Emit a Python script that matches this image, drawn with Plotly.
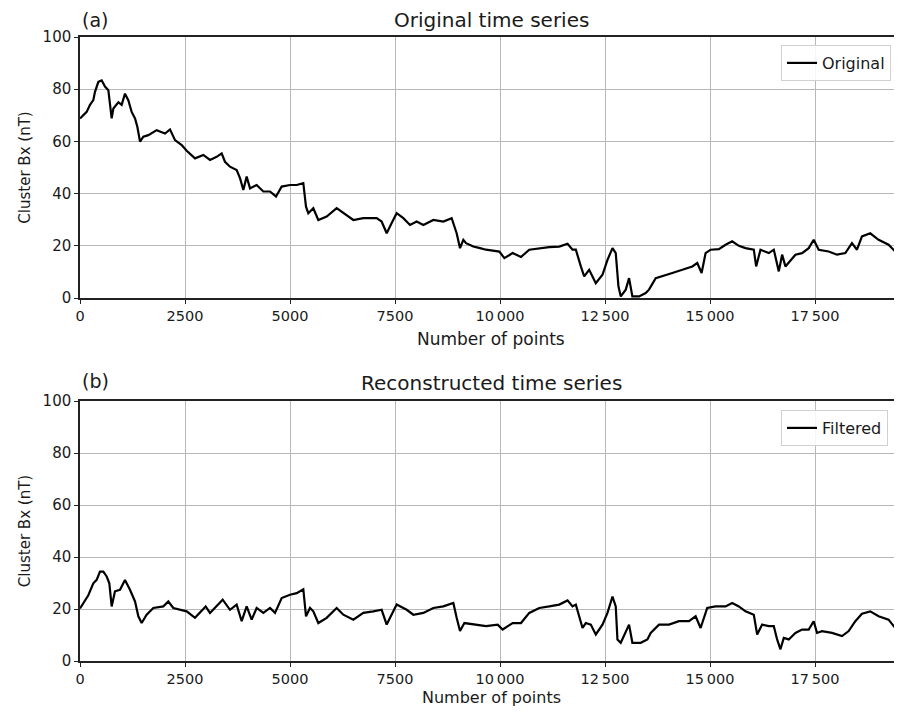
import plotly.graph_objects as go

# ---- data ----
orig_x = [0, 159, 238, 317, 357, 437, 516, 595, 675, 714, 754, 794, 913, 992, 1071, 1150, 1230, 1310, 1365,
          1429, 1508, 1627, 1825, 2024, 2143, 2262, 2421, 2540, 2738, 2937, 3095, 3254, 3373, 3452, 3571, 3730,
          3810, 3889, 3968, 4048, 4206, 4365, 4524, 4667, 4802, 5000, 5159, 5317, 5381, 5436, 5555, 5674, 5873,
          6111, 6270, 6508, 6746, 7063, 7182, 7302, 7421, 7540, 7698, 7857, 8016, 8175, 8413, 8651, 8849,
          8968, 9048, 9127, 9192, 9365, 9524, 9667, 9984, 10103, 10301, 10499, 10697, 10935, 11172, 11410,
          11608, 11727, 11806, 11925, 12004, 12123, 12281, 12440, 12559, 12678, 12756, 12820, 12875, 12994,
          13073, 13152, 13311, 13469, 13548, 13707, 13866, 14103, 14341, 14579, 14697, 14800, 14895, 15014,
          15212, 15370, 15528, 15687, 15845, 16043, 16099, 16202, 16400, 16519, 16638, 16717, 16796, 17034,
          17192, 17350, 17469, 17588, 17826, 18024, 18222, 18380, 18499, 18618, 18816, 19014, 19252, 19410, 19560]
orig_y = [68.8, 71.3, 74.0, 75.8, 79.0, 82.8, 83.4, 81.0, 79.6, 73.0, 68.8, 72.6, 75.0, 74.0, 78.3, 75.8, 71.3,
          68.8, 65.6, 59.9, 61.8, 62.4, 64.3, 63.0, 64.6, 60.5, 58.6, 56.4, 53.5, 54.8, 52.9, 54.1, 55.4, 52.2,
          50.3, 49.0, 45.9, 41.4, 46.5, 42.0, 43.3, 40.8, 40.8, 38.9, 42.7, 43.3, 43.3, 44.0, 35.0, 32.5, 34.4,
          29.9, 31.2, 34.4, 32.5, 29.9, 30.6, 30.6, 29.3, 24.8, 28.7, 32.5, 30.6, 28.0, 29.3, 28.0, 29.9, 29.3,
          30.6, 24.8, 19.1, 22.3, 21.0, 19.7, 19.1, 18.5, 17.8, 15.3, 17.2, 15.7, 18.5, 19.1, 19.5, 19.7,
          20.8, 18.5, 18.5, 12.1, 8.3, 10.8, 5.7, 8.9, 14.6, 19.1, 17.2, 4.5, 0.6, 3.2,
          7.6, 0.6, 0.6, 1.9, 3.2, 7.6, 8.3, 9.6, 10.8, 12.1, 13.4, 9.6, 17.2, 18.5,
          18.7, 20.4, 21.7, 20.0, 19.1, 18.5, 12.1, 18.5, 17.2, 18.5, 10.2, 16.6, 12.1, 16.6,
          17.2, 19.1, 22.3, 18.5, 17.8, 16.6, 17.2, 21.0, 18.5, 23.6, 24.8, 22.3, 20.4, 17.8, 18.5]

filt_x = [0, 79, 198, 317, 397, 476, 556, 635, 698, 754, 833, 952, 1071, 1190, 1310, 1389, 1468, 1587, 1746,
          1984, 2103, 2222, 2381, 2540, 2738, 2857, 2992, 3095, 3254, 3397, 3571, 3730, 3849, 3968, 4087, 4206,
          4365, 4524, 4643, 4802, 5000, 5159, 5317, 5381, 5476, 5555, 5674, 5873, 6111, 6270, 6508, 6746, 6984,
          7182, 7302, 7540, 7778, 7937, 8175, 8413, 8651, 8889, 8968, 9048, 9152, 9430, 9667, 9945, 10063,
          10301, 10499, 10697, 10935, 11172, 11410, 11608, 11727, 11806, 11965, 12044, 12162, 12281, 12440,
          12559, 12678, 12756, 12796, 12875, 12994, 13073, 13152, 13350, 13509, 13588, 13786, 14024, 14262,
          14499, 14658, 14776, 14934, 15132, 15370, 15528, 15687, 15845, 16043, 16123, 16242, 16400, 16519,
          16598, 16677, 16757, 16875, 17034, 17192, 17350, 17469, 17548, 17667, 17905, 18143, 18302, 18460,
          18618, 18816, 19014, 19252, 19410, 19560]
filt_y = [20.2, 22.2, 25.3, 29.9, 31.2, 34.4, 34.4, 32.5, 29.9, 21.0, 26.8, 27.4, 31.2, 27.4, 22.9, 17.2, 14.6,
          17.8, 20.4, 21.0, 22.9, 20.4, 19.7, 19.1, 16.6, 18.5, 21.0, 18.5, 21.0, 23.6, 19.7, 21.7, 15.3, 21.0,
          15.9, 20.4, 18.5, 20.4, 18.5, 24.2, 25.5, 26.1, 27.6, 17.2, 20.4, 19.1, 14.6, 16.6, 20.4, 17.8, 15.9,
          18.5, 19.1, 19.7, 14.0, 21.7, 19.7, 17.8, 18.5, 20.4, 21.0, 22.3, 16.6, 11.5, 14.6, 14.0, 13.4, 14.0,
          12.1, 14.6, 14.6, 18.5, 20.4, 21.0, 21.7, 23.3, 21.0, 21.7, 12.7, 14.6, 14.0, 10.2, 14.0,
          18.5, 24.8, 21.0, 8.3, 7.0, 11.5, 14.0, 7.0, 7.0, 8.3, 10.8, 14.0, 14.0, 15.3,
          15.3, 17.2, 12.7, 20.4, 21.0, 21.0, 22.3, 21.0, 19.1, 17.8, 10.2, 14.0, 13.4, 13.4,
          8.3, 4.5, 8.9, 8.3, 10.8, 12.1, 12.1, 15.3, 10.8, 11.5, 10.8, 9.6, 11.5, 15.3,
          18.2, 19.1, 17.2, 15.9, 12.7, 14.0]

x_tickvals = [0, 2500, 5000, 7500, 10000, 12500, 15000, 17500]
x_ticktext = ["0", "2500", "5000", "7500", "10\u2009000", "12\u2009500", "15\u2009000", "17\u2009500"]
y_tickvals = [0, 20, 40, 60, 80, 100]

FONT = "DejaVu Sans"
TXT = "#1a1a1a"
OFF = 8                      # page body margin in the browser
W, H = 902 - 2 * OFF, 717 - 2 * OFF   # avoid scrollbars
L = 80 - OFF                 # plot area left edge (figure px)
PLOT_W = W - L               # plot area width in px
X_MAX = PLOT_W * 2500 / 105  # keep 105 px per 2500 points as in the reference


def ydom(top_px, bot_px):
    return [(H - (bot_px - OFF)) / H, (H - (top_px - OFF)) / H]


def yp(px):  # reference page pixel -> paper y
    return (H - (px - OFF)) / H


def xp(px):  # reference page pixel -> paper x (relative to plot area)
    return (px - 80) / PLOT_W


fig = go.Figure()
fig.add_trace(go.Scatter(x=orig_x, y=orig_y, mode="lines", name="Original",
                         line=dict(color="black", width=2.2), xaxis="x", yaxis="y", legend="legend"))
fig.add_trace(go.Scatter(x=filt_x, y=filt_y, mode="lines", name="Filtered",
                         line=dict(color="black", width=2.2), xaxis="x2", yaxis="y2", legend="legend2"))

top_dom = ydom(37, 298)
bot_dom = ydom(401, 661)

xcommon = dict(range=[0, X_MAX], tickvals=x_tickvals, ticktext=x_ticktext, showgrid=True,
               gridcolor="#b8b8b8", gridwidth=1, showline=True, linecolor="#222", linewidth=1.5,
               mirror=True, ticks="outside", ticklen=4, tickcolor="#222", zeroline=False,
               tickfont=dict(family=FONT, size=14.5, color=TXT))
ycommon = dict(range=[0, 100], tickvals=y_tickvals, showgrid=True, gridcolor="#b8b8b8", gridwidth=1,
               showline=True, linecolor="#222", linewidth=1.5, mirror=False, ticks="outside", ticklen=4,
               tickcolor="#222", zeroline=False, tickfont=dict(family=FONT, size=15, color=TXT),
               title=dict(text="Cluster Bx (nT)", font=dict(family=FONT, size=15, color=TXT), standoff=8))

legend_style = dict(x=xp(781), xanchor="left", bgcolor="rgba(255,255,255,0.85)", bordercolor="#d0d0d0",
                    borderwidth=1, font=dict(family=FONT, size=16, color=TXT), tracegroupgap=0)

XC = 0.5 * (902 - 80) / PLOT_W


def label(text, y_px, size, x=XC, anchor="center"):
    return dict(text=text, x=x, y=yp(y_px), xref="paper", yref="paper", xanchor=anchor, yanchor="middle",
                showarrow=False, font=dict(family=FONT, size=size, color=TXT))


fig.update_layout(
    width=W, height=H,
    margin=dict(l=L, r=0, t=0, b=0, autoexpand=False),
    paper_bgcolor="white", plot_bgcolor="white",
    showlegend=True,
    xaxis=dict(domain=[0, 1], anchor="y", **xcommon),
    yaxis=dict(domain=top_dom, anchor="x", **ycommon),
    xaxis2=dict(domain=[0, 1], anchor="y2", **xcommon),
    yaxis2=dict(domain=bot_dom, anchor="x2", **ycommon),
    legend=dict(y=yp(45), yanchor="top", **legend_style),
    legend2=dict(y=yp(410), yanchor="top", **legend_style),
    annotations=[
        label("Original time series", 20, 20),
        label("(a)", 20, 19, x=0, anchor="left"),
        label("Number of points", 339, 17),
        label("Reconstructed time series", 383, 20),
        label("(b)", 381, 19, x=0, anchor="left"),
        label("Number of points", 697.5, 16),
    ],
)

fig.write_html("out.html")
